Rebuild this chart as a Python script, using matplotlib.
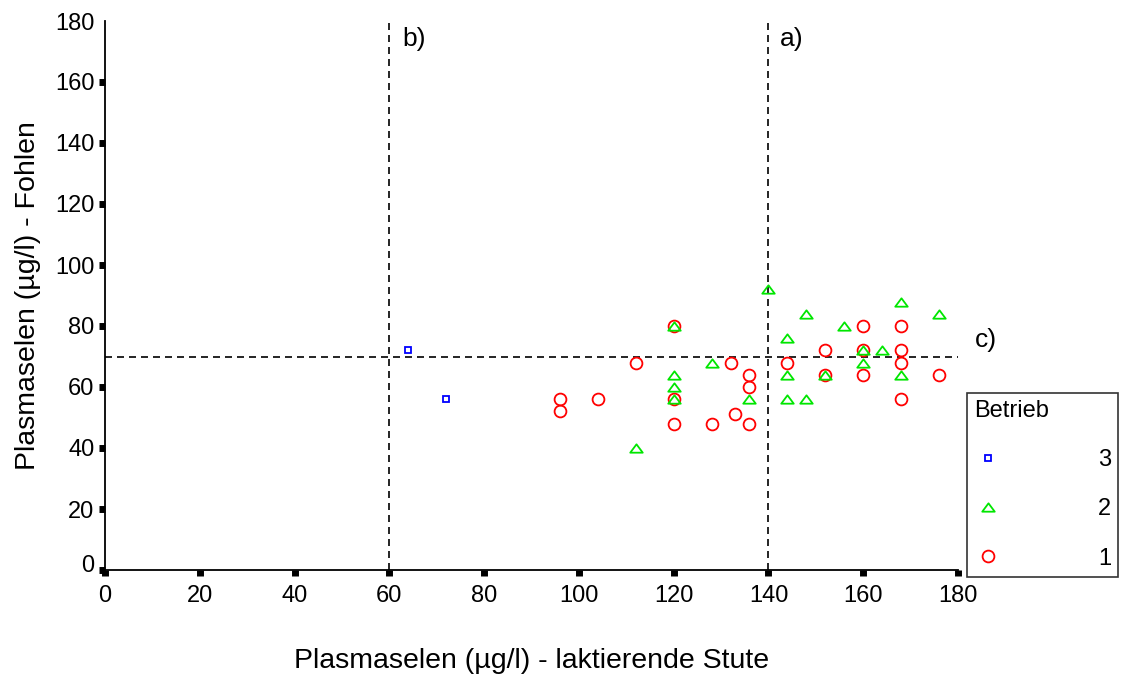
import matplotlib
matplotlib.use("Agg")
import matplotlib.pyplot as plt
from matplotlib.lines import Line2D
from matplotlib.path import Path
from matplotlib.transforms import ScaledTranslation

plt.rcParams['font.family'] = ['Liberation Sans', 'DejaVu Sans']

# Betrieb 1 (circles)
b1_x = [96, 96, 104, 112, 120, 120, 120, 128, 132, 133, 136, 136, 136, 144, 152, 152, 160, 160, 160, 168, 168, 168, 168, 176]
b1_y = [56, 52, 56, 68, 80, 56, 48, 48, 68, 51, 64, 60, 48, 68, 72, 64, 80, 72, 64, 80, 72, 68, 56, 64]
# Betrieb 2 (triangles)
b2_x = [112, 120, 120, 120, 120, 128, 136, 140, 144, 144, 144, 148, 148, 152, 156, 160, 160, 164, 168, 168, 176]
b2_y = [40, 80, 64, 60, 56, 68, 56, 92, 76, 64, 56, 84, 56, 64, 80, 72, 68, 72, 88, 64, 84]
# Betrieb 3 (squares)
b3_x = [64, 72]
b3_y = [72, 56]

x_ticks = [0, 20, 40, 60, 80, 100, 120, 140, 160, 180]
y_ticks = [0, 20, 40, 60, 80, 100, 120, 140, 160, 180]
vlines = [60, 140]
hline = 70
region_labels = ['a)', 'b)', 'c)']

RED = '#ff0000'
GREEN = '#00e600'
BLUE = '#0000ff'

tri = Path([(0, 0.67), (-1, -0.67), (1, -0.67), (0, 0.67)],
           [Path.MOVETO, Path.LINETO, Path.LINETO, Path.CLOSEPOLY])

fig = plt.figure(figsize=(11.21, 6.78), dpi=100)
ax = fig.add_axes([105/1121, 1-570/678, (958-105)/1121, (570-21)/678])

ax.plot(b1_x, b1_y, linestyle='none', marker='o', ms=8.5, mfc='none', mec=RED, mew=1.3, zorder=3)
ax.plot(b2_x, b2_y, linestyle='none', marker=tri, ms=9, mfc='none', mec=GREEN, mew=1.3, zorder=3)
ax.plot(b3_x, b3_y, linestyle='none', marker='s', ms=5, mfc='none', mec=BLUE, mew=1.3, zorder=3)

dash = (4.2, 3.0)
for v in vlines:
    ax.plot([v, v], [0, 180], color='black', lw=1.2, dashes=dash, zorder=2)
ax.plot([0, 180], [hline, hline], color='black', lw=1.2, dashes=dash, zorder=2)

ax.text(142.5, 174, region_labels[0], fontsize=19, ha='left', va='center')
ax.text(62.7, 174, region_labels[1], fontsize=19, ha='left', va='center')
ax.text(183.5, 75.5, region_labels[2], fontsize=19, ha='left', va='center', clip_on=False)

ax.set_xlim(0, 180)
ax.set_ylim(0, 180)
ax.set_xticks(x_ticks)
ax.set_yticks(y_ticks)
ax.spines['top'].set_visible(False)
ax.spines['right'].set_visible(False)
ax.spines['left'].set_linewidth(1.3)
ax.spines['bottom'].set_linewidth(1.3)
ax.tick_params(axis='both', direction='out', length=4, width=5, labelsize=17, color='black')
ax.tick_params(axis='x', pad=6.5)
ax.tick_params(axis='y', pad=3.5)
ax.yaxis.get_major_ticks()[-1].tick1line.set_visible(False)
lab0 = ax.yaxis.get_major_ticks()[0].label1
lab0.set_transform(lab0.get_transform() + ScaledTranslation(0, 7/100, fig.dpi_scale_trans))

ax.set_xlabel('Plasmaselen (µg/l) - laktierende Stute', fontsize=20.5, labelpad=30)
ax.set_ylabel('Plasmaselen (µg/l) - Fohlen', fontsize=20.5, labelpad=10)

handles = [
    Line2D([], [], linestyle='none', marker='s', ms=5, mfc='none', mec=BLUE, mew=1.3),
    Line2D([], [], linestyle='none', marker=tri, ms=9, mfc='none', mec=GREEN, mew=1.3),
    Line2D([], [], linestyle='none', marker='o', ms=8.5, mfc='none', mec=RED, mew=1.3),
]
leg = fig.legend(handles, ['3', '2', '1'], title='Betrieb', loc='upper left',
                 bbox_to_anchor=(967/1121, 1-393/678), bbox_transform=fig.transFigure,
                 fontsize=17, title_fontsize=17, frameon=True, fancybox=False,
                 edgecolor='black', borderpad=0.3, borderaxespad=0, handlelength=1.15,
                 handletextpad=4.1, labelspacing=1.15)
leg.get_frame().set_linewidth(1.2)
leg._legend_box.align = 'left'

fig.savefig('out.png', dpi=100)
